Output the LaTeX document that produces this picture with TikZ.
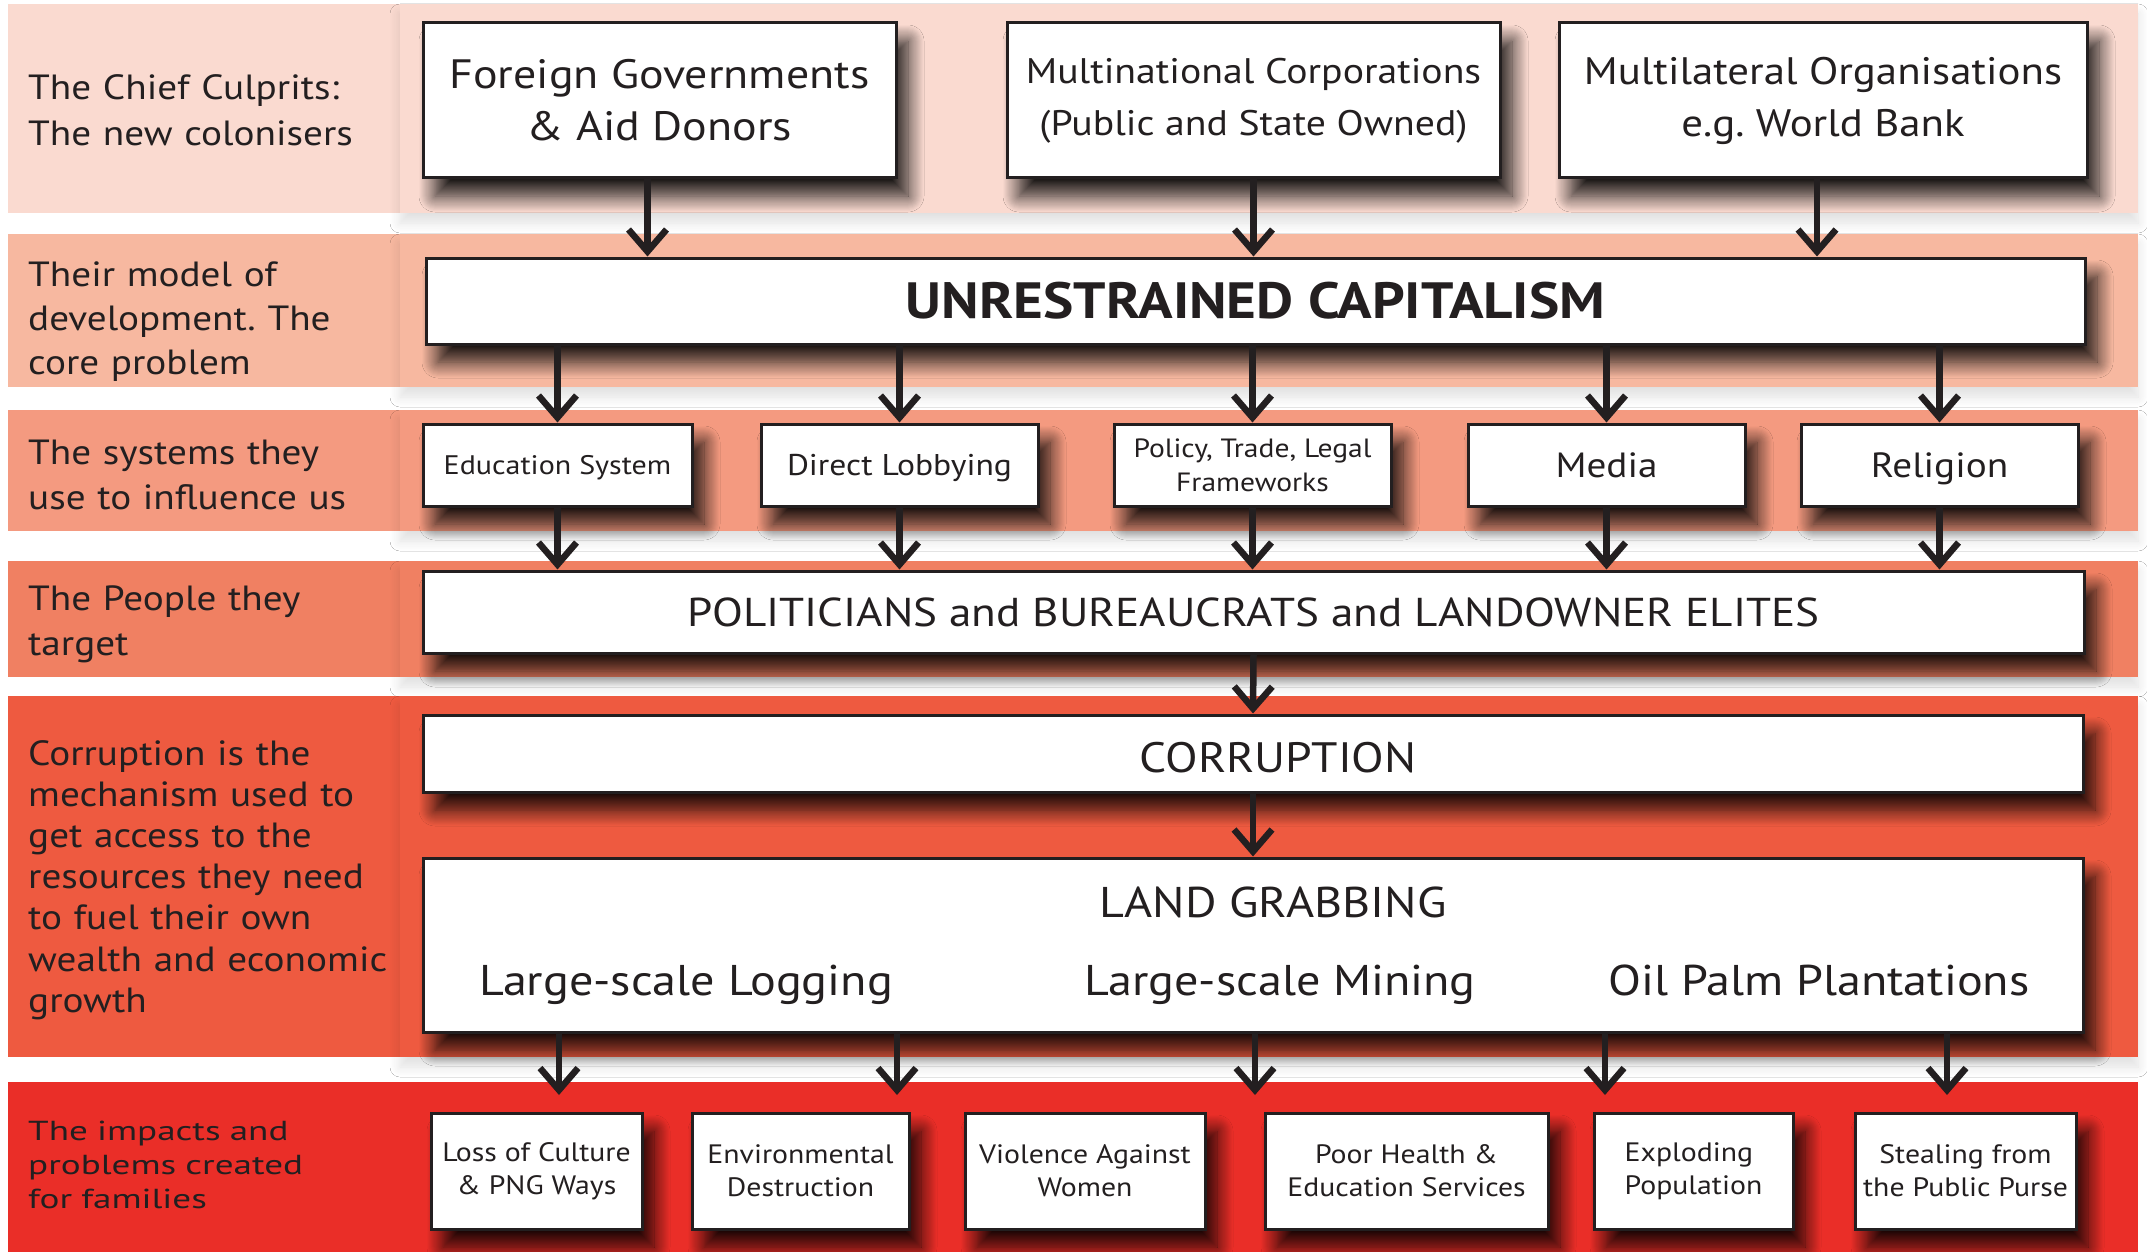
\documentclass[tikz,border=0pt]{standalone}
\usepackage{fontspec}
\setmainfont[FakeStretch=1.12]{PT Sans}
\newfontfamily\widefont[FakeStretch=1.35]{PT Sans}
\usetikzlibrary{arrows.meta,shadows.blur}
\definecolor{ink}{HTML}{231F20}
\definecolor{bandA}{HTML}{FADAD0}
\definecolor{bandB}{HTML}{F7B8A0}
\definecolor{bandC}{HTML}{F49A80}
\definecolor{bandD}{HTML}{F08062}
\definecolor{bandE}{HTML}{EE5A40}
\definecolor{bandF}{HTML}{EA2E28}
\newcommand{\fsz}[2]{\fontsize{#1}{#2}\selectfont\frenchspacing}
\tikzset{
  boxshadow/.style={blur shadow={shadow xshift=12pt,shadow yshift=-18pt,shadow blur radius=16pt,shadow opacity=88,shadow blur steps=16}},
  bandshadow/.style={blur shadow={shadow xshift=0pt,shadow yshift=-10pt,shadow blur radius=10pt,shadow opacity=12,shadow blur steps=10}},
  bx/.style={draw=ink,line width=3pt,fill=white,inner sep=0pt,text=ink,align=center,boxshadow},
  oneline/.style={text height=#1,text depth=0pt},
  arr/.style={draw=ink,line width=6.5pt,-{Straight Barb[length=22pt,width=38pt,line width=6.5pt]}},
  lab/.style={anchor=base west,text width=390pt,align=left,inner sep=0pt,text=ink},
  txt/.style={anchor=base,inner sep=0pt,text=ink},
}
\begin{document}
\frenchspacing
\begin{tikzpicture}[x=1pt,y=-1pt]
\useasboundingbox (0,0) rectangle (2147,1252);
\fill[white] (0,0) rectangle (2147,1252);
% bands
\fill[bandA] (8,4) rectangle (400,213);
\path[fill=bandA,bandshadow] (400,4) rectangle (2138,213);
\fill[bandB] (8,234) rectangle (400,387);
\path[fill=bandB,bandshadow] (400,234) rectangle (2138,387);
\fill[bandC] (8,410) rectangle (400,531);
\path[fill=bandC,bandshadow] (400,410) rectangle (2138,531);
\fill[bandD] (8,561) rectangle (400,677);
\path[fill=bandD,bandshadow] (400,561) rectangle (2138,677);
\fill[bandE] (8,696) rectangle (400,1057);
\path[fill=bandE,bandshadow] (400,696) rectangle (2138,1057);
\fill[bandF] (8,1082) rectangle (2138,1252);

% left labels
\node[lab,font=\fsz{35}{46}] (l1) at (28,100) {The Chief Culprits:\\The new colonisers};
\node[lab,font=\fsz{35}{44.5}] (l2) at (28,286) {Their model of\\development. The\\core problem};
\node[lab,font=\fsz{35}{45}] (l3) at (28,464) {The systems they\\use to influence us};
\node[lab,font=\fsz{35}{45}] (l4) at (28,610) {The People they\\target};
\node[lab,font=\fsz{35}{41.2}] (l5) at (28,765) {Corruption is the\\mechanism used to\\get access to the\\resources they need\\to fuel their own\\wealth and economic\\growth};
\node[lab,font=\widefont\fsz{27.5}{34}] (l6) at (28,1140) {The impacts and\\problems created\\for families};

% row 1
\node[bx,minimum width=473pt,minimum height=155pt,font=\fsz{41}{52}] (gov) at (659.5,100.5) {Foreign Governments\\\& Aid Donors};
\node[bx,minimum width=493pt,minimum height=155pt,font=\fsz{35.5}{52}] (mnc) at (1253.5,100.5) {Multinational Corporations\\(Public and State Owned)};
\node[bx,minimum width=528pt,minimum height=155pt,font=\fsz{38.3}{52}] (mlo) at (1823,100.5) {Multilateral Organisations\\e.g. World Bank};

% capitalism
\node[bx,oneline=35.7pt,minimum width=1659pt,minimum height=86pt,font=\fsz{51}{60}\bfseries] (cap) at (1255.5,301) {UNRESTRAINED CAPITALISM};

% row 3
\node[bx,oneline=18.8pt,minimum width=269pt,minimum height=82pt,font=\fsz{26.8}{34}] (edu) at (557.5,465) {Education System};
\node[bx,oneline=21pt,minimum width=277pt,minimum height=82pt,font=\fsz{30}{34}] (lob) at (899.5,465) {Direct Lobbying};
\node[bx,minimum width=277pt,minimum height=82pt,font=\fsz{26.4}{34}] (ptl) at (1252.5,465) {Policy, Trade, Legal\\Frameworks};
\node[bx,oneline=24.5pt,minimum width=277pt,minimum height=82pt,font=\fsz{35}{40}] (med) at (1606.5,465) {Media};
\node[bx,oneline=24.5pt,minimum width=277pt,minimum height=82pt,font=\fsz{35}{40}] (rel) at (1939.5,465) {Religion};

% people
\node[bx,oneline=28.2pt,minimum width=1661pt,minimum height=82pt,font=\fsz{40.3}{48}] (pol) at (1253.5,612) {POLITICIANS and BUREAUCRATS and LANDOWNER ELITES};

% corruption
\node[bx,minimum width=1660pt,minimum height=77pt] (cor) at (1253,753.5) {};
\node[txt,font=\fsz{42.5}{48}] (cort) at (1278,772) {CORRUPTION};

% land grabbing
\node[bx,minimum width=1660pt,minimum height=174pt] (land) at (1253,945) {};
\node[txt,font=\fsz{43}{50}] (lg) at (1273,917) {LAND GRABBING};
\node[txt,font=\fsz{43}{50}] (log) at (686,995) {Large-scale Logging};
\node[txt,font=\fsz{43}{50}] (min) at (1280,995) {Large-scale Mining};
\node[txt,font=\fsz{43}{50}] (oil) at (1819,995) {Oil Palm Plantations};

% row 6
\tikzset{imp/.style={bx,minimum height=116pt,font=\fsz{26.6}{33}}}
\node[imp,minimum width=211pt] (loss) at (536.5,1171) {Loss of Culture\\\& PNG Ways};
\node[imp,minimum width=217pt] (env) at (800.5,1171) {Environmental\\Destruction};
\node[imp,minimum width=240pt] (vio) at (1085,1171) {Violence Against\\Women};
\node[imp,minimum width=283pt] (poor) at (1406.5,1171) {Poor Health \&\\Education Services};
\node[imp,minimum width=199pt,align=left] (expl) at (1693.5,1171) {Exploding\\Population};
\node[imp,minimum width=221pt] (steal) at (1965.5,1171) {Stealing from\\the Public Purse};

% arrows row1 -> cap
\draw[arr] ([xshift=-12pt]gov.south) -- ([xshift=-12pt]gov.south |- cap.north);
\draw[arr] (mnc.south) -- (mnc.south |- cap.north);
\draw[arr] ([xshift=-6pt]mlo.south) -- ([xshift=-6pt]mlo.south |- cap.north);
% cap -> row 3 -> people
\foreach \n in {edu,lob,ptl,med,rel}{
  \draw[arr] (cap.south -| \n.north) -- (\n.north);
  \draw[arr] (\n.south) -- (\n.south |- pol.north);
}
\draw[arr] (pol.south) -- (cor.north);
\draw[arr] (cor.south) -- (land.north);
% land -> impacts
\coordinate (t1) at (559,1095);
\coordinate (t2) at (897,1095);
\coordinate (t3) at (1255,1095);
\coordinate (t4) at (1605,1095);
\coordinate (t5) at (1947,1095);
\foreach \t in {t1,t2,t3,t4,t5}{
  \draw[arr] (land.south -| \t) -- (\t);
}
\end{tikzpicture}
\end{document}
